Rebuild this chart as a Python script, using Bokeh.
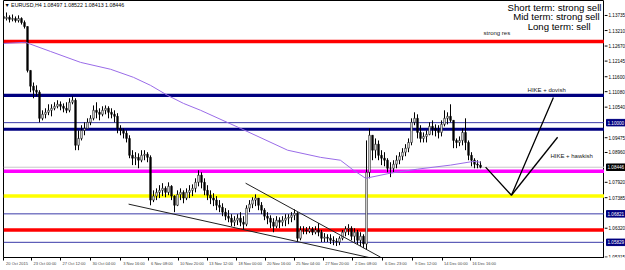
from bokeh.plotting import figure
from bokeh.layouts import row
from bokeh.models import Range1d, FixedTicker, Span, ColumnDataSource, LinearAxis
from bokeh.core.properties import value
from bokeh.embed import file_html
from bokeh.resources import INLINE

# ---------------- data (EURUSD H4) ----------------
highs = [1.1381,1.1384,1.1374,1.1377,1.1370,1.1374,1.1367,1.1356,1.1335,1.1182,
         1.1140,1.1130,1.1113,1.1043,1.1050,1.1064,1.1064,1.1071,1.1078,1.1074,
         1.1067,1.1071,1.1085,1.1092,1.1085,1.0973,1.0991,1.1001,1.1015,1.1026,
         1.1060,1.1071,1.1050,1.1057,1.1060,1.1057,1.1050,1.1043,1.1033,1.0991,
         1.0980,1.0973,1.0956,1.0904,1.0897,1.0893,1.0904,1.0904,1.0897,1.0886,
         1.0764,1.0771,1.0782,1.0789,1.0778,1.0792,1.0782,1.0747,1.0764,1.0771,
         1.0764,1.0771,1.0782,1.0785,1.0806,1.0834,1.0827,1.0806,1.0782,1.0764,
         1.0754,1.0744,1.0730,1.0719,1.0702,1.0695,1.0681,1.0674,1.0681,1.0688,
         1.0674,1.0712,1.0730,1.0740,1.0750,1.0737,1.0723,1.0702,1.0688,1.0677,
         1.0667,1.0674,1.0670,1.0674,1.0681,1.0681,1.0688,1.0698,1.0688,1.0639,
         1.0639,1.0636,1.0639,1.0636,1.0639,1.0650,1.0626,1.0615,1.0611,1.0611,
         1.0604,1.0597,1.0604,1.0626,1.0639,1.0646,1.0639,1.0632,1.0626,1.0618,
         1.0611,1.0938,1.0980,1.0956,1.0945,1.0938,1.0904,1.0897,1.0876,1.0862,
         1.0869,1.0886,1.0897,1.0911,1.0925,1.0945,1.1015,1.1036,1.1029,1.0991,
         1.0966,1.0973,1.1001,1.1008,1.0994,1.0991,1.1008,1.1043,1.1036,1.1064,
         1.1008,1.0945,1.0952,1.0980,1.1015,1.0938,1.0897,1.0876,1.0869,1.0865]
lows = [1.1349,1.1356,1.1349,1.1353,1.1349,1.1349,1.1342,1.1328,1.1175,1.1106,
        1.1085,1.1092,1.1001,1.1008,1.1015,1.1026,1.1022,1.1043,1.1050,1.1043,
        1.1036,1.1033,1.1036,1.1064,1.0904,1.0904,1.0938,1.0956,1.0980,1.0991,
        1.1008,1.1015,1.1008,1.1022,1.1029,1.1015,1.1015,1.1001,1.0963,1.0956,
        1.0945,1.0931,1.0876,1.0852,1.0852,1.0841,1.0862,1.0869,1.0862,1.0712,
        1.0723,1.0730,1.0737,1.0744,1.0740,1.0747,1.0730,1.0688,1.0709,1.0730,
        1.0719,1.0730,1.0737,1.0744,1.0757,1.0778,1.0771,1.0747,1.0730,1.0716,
        1.0709,1.0695,1.0688,1.0674,1.0660,1.0653,1.0639,1.0639,1.0643,1.0639,
        1.0626,1.0639,1.0688,1.0702,1.0709,1.0695,1.0681,1.0660,1.0646,1.0632,
        1.0618,1.0632,1.0632,1.0639,1.0639,1.0646,1.0653,1.0660,1.0584,1.0590,
        1.0611,1.0611,1.0615,1.0608,1.0611,1.0604,1.0584,1.0584,1.0584,1.0577,
        1.0573,1.0570,1.0573,1.0590,1.0604,1.0608,1.0590,1.0584,1.0577,1.0570,
        1.0563,1.0556,1.0806,1.0869,1.0876,1.0869,1.0852,1.0848,1.0827,1.0810,
        1.0827,1.0841,1.0855,1.0869,1.0883,1.0897,1.0921,1.0991,1.0945,1.0931,
        1.0931,1.0931,1.0956,1.0956,1.0952,1.0945,1.0952,1.0987,1.0994,1.1001,
        1.0911,1.0911,1.0918,1.0921,1.0904,1.0869,1.0848,1.0841,1.0841,1.0841]
closes = [1.1363,1.1367,1.1360,1.1363,1.1356,1.1363,1.1349,1.1335,1.1182,1.1127,
          1.1113,1.1106,1.1015,1.1029,1.1036,1.1043,1.1050,1.1057,1.1064,1.1057,
          1.1050,1.1043,1.1071,1.1078,1.0921,1.0945,1.0973,1.0980,1.1001,1.1015,
          1.1043,1.1036,1.1029,1.1043,1.1050,1.1036,1.1029,1.1022,1.0980,1.0973,
          1.0963,1.0945,1.0886,1.0876,1.0879,1.0869,1.0886,1.0890,1.0879,1.0730,
          1.0744,1.0757,1.0764,1.0771,1.0757,1.0778,1.0744,1.0712,1.0750,1.0757,
          1.0737,1.0757,1.0764,1.0771,1.0792,1.0817,1.0792,1.0764,1.0747,1.0737,
          1.0730,1.0712,1.0705,1.0688,1.0674,1.0667,1.0653,1.0660,1.0667,1.0653,
          1.0646,1.0702,1.0716,1.0730,1.0737,1.0712,1.0695,1.0674,1.0667,1.0653,
          1.0639,1.0660,1.0653,1.0660,1.0667,1.0670,1.0677,1.0684,1.0597,1.0626,
          1.0626,1.0622,1.0629,1.0618,1.0626,1.0618,1.0597,1.0601,1.0597,1.0590,
          1.0587,1.0584,1.0597,1.0618,1.0629,1.0632,1.0604,1.0618,1.0590,1.0604,
          1.0577,1.0827,1.0956,1.0904,1.0925,1.0886,1.0876,1.0869,1.0841,1.0841,
          1.0855,1.0869,1.0883,1.0897,1.0911,1.0931,1.1001,1.1015,1.0966,1.0945,
          1.0952,1.0959,1.0987,1.0980,1.0973,1.0966,1.0994,1.1015,1.1022,1.1008,
          1.0938,1.0931,1.0938,1.0966,1.0931,1.0886,1.0869,1.0855,1.0852,1.08446]
first_open = 1.1370

# moving average (read at sample points: bar index, price)
ma_x = [0, 7.3, 15.7, 25.7, 35.7, 43.3, 49, 54.7, 60, 65.7, 79, 94.7, 105.7, 112.3, 116.7, 120.7, 129, 138, 149, 156.7, 159]
ma_y = [1.1276, 1.1280, 1.1248, 1.1210, 1.1186, 1.1158, 1.1130, 1.1095, 1.1067, 1.1043, 1.0980, 1.0904,
        1.0879, 1.0869, 1.0834, 1.0806, 1.0824, 1.0838, 1.0852, 1.0865, 1.0862]

# horizontal levels
red_levels = [1.1283, 1.0626]
navy_levels = [1.1095, 1.0977]
thin_levels = [1.10000, 1.06821, 1.05829]
magenta_level = 1.0831
yellow_level = 1.0744
current_price = 1.08446

# trend lines (bar index, price)
wedge_low_x = [41.7, 125.7]
wedge_low_y = [1.0716, 1.0521]
wedge_up_x = [80.7, 125.7]
wedge_up_y = [1.0789, 1.0531]
scen_dovish_x = [160.7, 169.3, 183.3]
scen_dovish_y = [1.0845, 1.0747, 1.1088]
scen_hawk_x = [169.3, 184.7]
scen_hawk_y = [1.0747, 1.0949]

# axes
x_tick_pos = [0, 9.3, 19, 29, 39, 48.3, 58.3, 68, 77.7, 87.3, 97, 106.7, 116.3, 126.3, 136.3, 146.3, 155.7]
x_tick_labels = ["20 Oct 2015", "23 Oct 00:00", "27 Oct 12:00", "30 Oct 04:00", "3 Nov 16:00",
                 "6 Nov 08:00", "10 Nov 20:00", "13 Nov 12:00", "18 Nov 00:00", "20 Nov 16:00",
                 "25 Nov 04:00", "27 Nov 20:00", "2 Dec 08:00", "6 Dec 23:00", "9 Dec 12:00",
                 "14 Dec 00:00", "16 Dec 16:00"]
y_ticks = [1.13735, 1.13210, 1.12670, 1.12145, 1.11600, 1.11080, 1.10540, 1.09475,
           1.08960, 1.07920, 1.07385, 1.06320, 1.05315]
box_labels = [1.10000, 1.08446, 1.06821, 1.05829]
box_colors = ["#000080", "#000000", "#000080", "#000080"]

header = "\u25BC EURUSD,H4  1.08497 1.08522 1.08413 1.08446"
verdicts = ["Short term: strong sell", "Mid term: strong sell", "Long term: sell"]
verdict_x = [199.3, 198.7, 195.7]
verdict_y = [1.1401, 1.1369, 1.1336]
notes = ["strong res", "HIKE + dovish", "HIKE + hawkish"]
notes_x = [160, 174.7, 182.3]
notes_y = [1.1311, 1.1113, 1.0883]

# ---------------- main chart ----------------
FONT = "Liberation Sans"
yr = Range1d(1.0530, 1.14257)
p = figure(width=604, height=270, output_backend="svg", toolbar_location=None,
           x_range=Range1d(0, 200.33), y_range=yr, y_axis_location=None,
           min_border_left=3, min_border_top=0, min_border_right=0, min_border_bottom=13)
p.background_fill_color = "white"
p.border_fill_color = "white"
p.outline_line_color = "black"
p.xgrid.visible = False
p.ygrid.visible = False

for lv in red_levels:
    p.add_layout(Span(location=lv, dimension="width", line_color="#FF0000", line_width=3.5, level="underlay"))
for lv in navy_levels:
    p.add_layout(Span(location=lv, dimension="width", line_color="#000080", line_width=3.2, level="underlay"))
for lv in thin_levels:
    p.add_layout(Span(location=lv, dimension="width", line_color="#3A3AA8", line_width=1, level="underlay"))
p.add_layout(Span(location=magenta_level, dimension="width", line_color="#FF00FF", line_width=3.5, level="underlay"))
p.add_layout(Span(location=yellow_level, dimension="width", line_color="#FFFF00", line_width=3.5, level="underlay"))
p.add_layout(Span(location=current_price, dimension="width", line_color="#C8C8C8", line_width=1, level="underlay"))

# candles
n = len(closes)
opens = [first_open] + closes[:-1]
src = ColumnDataSource(dict(
    x=list(range(n)), high=highs, low=lows,
    top=[max(o, c) for o, c in zip(opens, closes)],
    bottom=[min(o, c) for o, c in zip(opens, closes)],
    fill=["white" if c >= o else "black" for o, c in zip(opens, closes)],
))
p.segment(x0="x", y0="low", x1="x", y1="high", line_color="black", line_width=1, source=src)
p.vbar(x="x", width=0.55, top="top", bottom="bottom", fill_color="fill",
       line_color="black", line_width=0.6, source=src)

# moving average
p.line(ma_x, ma_y, line_color="#9A6CE8", line_width=1)

# trend lines and scenarios
p.line(wedge_low_x, wedge_low_y, line_color="#202020", line_width=1)
p.line(wedge_up_x, wedge_up_y, line_color="#202020", line_width=1)
p.line(scen_dovish_x, scen_dovish_y, line_color="black", line_width=1.3)
p.line(scen_hawk_x, scen_hawk_y, line_color="black", line_width=1.3)

# texts
p.text(x=[0.3], y=[1.1410], text=[header], text_font=value(FONT), text_font_size="5.3px",
       text_color="black", text_baseline="middle", text_align="left")
p.text(x=verdict_x, y=verdict_y, text=verdicts, text_font=value(FONT), text_font_size="9.6px",
       text_color="black", text_baseline="middle", text_align="right")
p.text(x=notes_x, y=notes_y, text=notes, text_font=value(FONT), text_font_size="6px",
       text_color="#202020", text_baseline="middle", text_align="left")

# time axis: tick marks at the bar positions, labels start at the tick (MT4 style)
p.xaxis.ticker = FixedTicker(ticks=x_tick_pos)
p.xaxis.major_label_overrides = {t: "" for t in x_tick_pos}
p.xaxis.major_label_text_font_size = "1px"
p.xaxis.major_label_standoff = 0
p.xaxis.major_tick_out = 3
p.xaxis.major_tick_in = 0
p.xaxis.minor_tick_out = 0
p.xaxis.minor_tick_in = 0
p.xaxis.axis_line_color = "black"

label_half_width = 4.5  # labels are drawn to the right of their tick
label_pos = [t + label_half_width for t in x_tick_pos]
time_labels = LinearAxis(ticker=FixedTicker(ticks=label_pos),
                         major_label_overrides={c: l for c, l in zip(label_pos, x_tick_labels)},
                         major_label_text_font=FONT, major_label_text_font_size="4px",
                         major_label_standoff=0, major_tick_out=0, major_tick_in=0,
                         minor_tick_out=0, minor_tick_in=0, axis_line_color=None)
p.add_layout(time_labels, "below")

# ---------------- price scale (shares the price range) ----------------
s = figure(width=21, height=270, output_backend="svg", toolbar_location=None,
           x_range=Range1d(0, 21), y_range=yr, x_axis_location=None, y_axis_location=None,
           min_border_left=0, min_border_right=0, min_border_top=0, min_border_bottom=13)
s.outline_line_color = None
s.xgrid.visible = False
s.ygrid.visible = False
s.background_fill_color = "white"
s.border_fill_color = "white"

s.segment(x0=[0] * len(y_ticks), y0=y_ticks, x1=[3] * len(y_ticks), y1=y_ticks,
          line_color="black", line_width=1)
s.text(x=[4] * len(y_ticks), y=y_ticks, text=[f"{v:.5f}" for v in y_ticks],
       text_font=value(FONT), text_font_size="4.6px", text_color="black",
       text_baseline="middle", text_align="left")
s.rect(x=[11.5] * len(box_labels), y=box_labels, width=19, height=6.5, height_units="screen",
       fill_color=box_colors, line_color=box_colors)
s.text(x=[3] * len(box_labels), y=box_labels, text=[f"{v:.5f}" for v in box_labels],
       text_font=value(FONT), text_font_size="4.6px", text_color="white",
       text_baseline="middle", text_align="left")

layout = row(p, s, spacing=0)
open("out.html", "w").write(file_html(layout, INLINE))
